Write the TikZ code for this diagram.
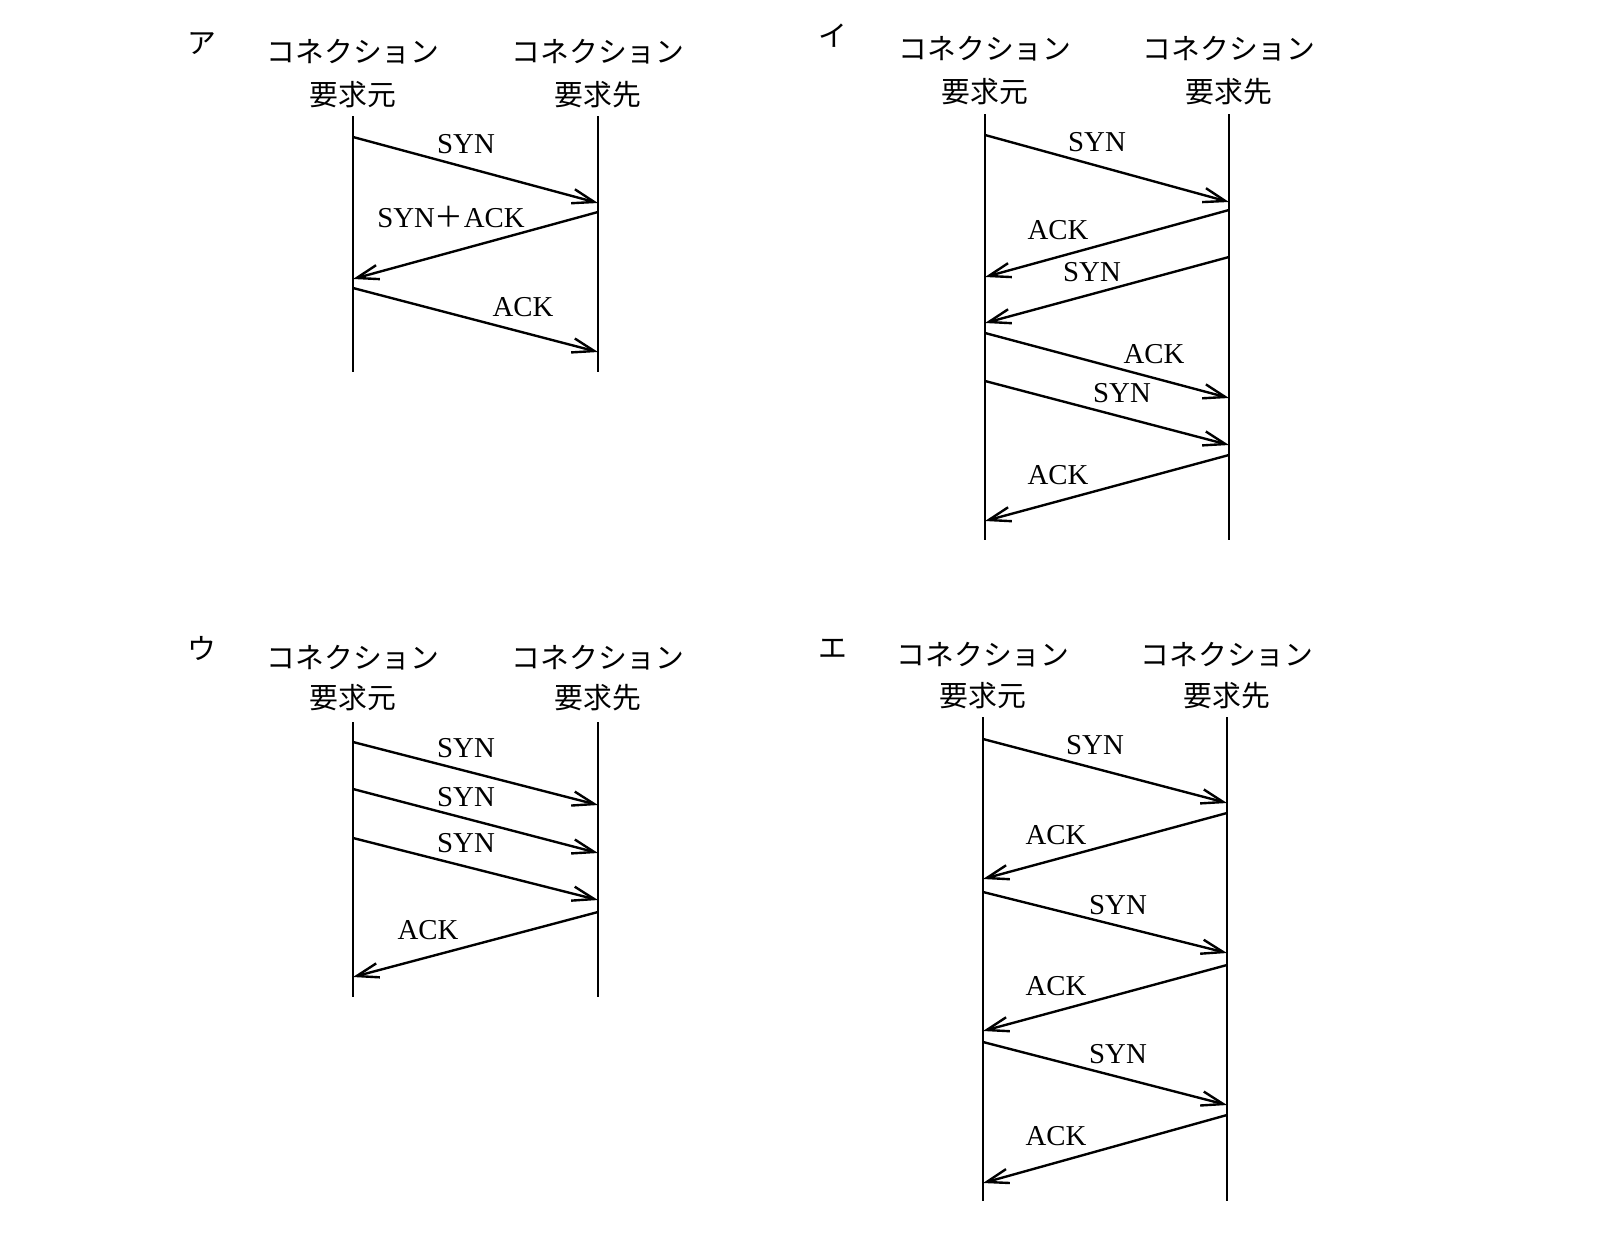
\documentclass[tikz,border=0pt]{standalone}
\usepackage{fontspec}
\setmainfont{Liberation Serif}
\newfontfamily\jp{Noto Sans CJK JP}
\usetikzlibrary{arrows.meta,positioning}
\tikzset{
	lane/.style={line width=1.7pt},
	msg/.style={->,>={Straight Barb[length=5.5mm,width=3.6mm]},line width=1.7pt},
	msglabel/.style={font=\fontsize{20.5}{24}\selectfont, inner sep=0pt},
	ent/.style={font=\jp\fontsize{20.5}{24}\selectfont, inner sep=0pt, anchor=base},
	tag/.style={font=\jp\fontsize{20.5}{24}\selectfont, inner sep=0pt, anchor=base}
}
\begin{document}
\begin{tikzpicture}[x=0.25mm,y=-0.25mm]
\useasboundingbox (0,0) rectangle (1600,1240);

%%%% ア
\node[tag] (ta) at (202,54) {ア};
\node[ent] (a1n) at (353,63) {コネクション};
\node[ent] (a1m) at (353,105) {要求元};
\node[ent] (a2n) at (598,63) {コネクション};
\node[ent] (a2m) at (598,105) {要求先};
\coordinate (a1) at (353,116); \coordinate (a1e) at (353,372);
\coordinate (a2) at (598,116); \coordinate (a2e) at (598,372);
\draw[lane] (a1) -- (a1e) (a2) -- (a2e);
\draw (a1 |- 0,137) edge[msg] (a2 |- 0,203)
(a2 |- 0,212) edge[msg] (a1 |- 0,279)
(a1 |- 0,288) edge[msg] (a2 |- 0,352);
\node[msglabel] (as1) at (466,144) {SYN};
\node[msglabel] (as2) at (451,217) {SYN{\jp ＋}ACK};
\node[msglabel] (as3) at (523,307) {ACK};

%%%% イ
\node[tag] (tb) at (833,47) {イ};
\node[ent] (b1n) at (985,59) {コネクション};
\node[ent] (b1m) at (985,102) {要求元};
\node[ent] (b2n) at (1229,59) {コネクション};
\node[ent] (b2m) at (1229,102) {要求先};
\coordinate (b1) at (985,114); \coordinate (b1e) at (985,540);
\coordinate (b2) at (1229,114); \coordinate (b2e) at (1229,540);
\draw[lane] (b1) -- (b1e) (b2) -- (b2e);
\draw (b1 |- 0,135) edge[msg] (b2 |- 0,202)
(b2 |- 0,210) edge[msg] (b1 |- 0,277)
(b2 |- 0,257) edge[msg] (b1 |- 0,323)
(b1 |- 0,333) edge[msg] (b2 |- 0,398)
(b1 |- 0,381) edge[msg] (b2 |- 0,445)
(b2 |- 0,455) edge[msg] (b1 |- 0,521);
\node[msglabel] (bs1) at (1097,142) {SYN};
\node[msglabel] (bs2) at (1058,230) {ACK};
\node[msglabel] (bs3) at (1092,272) {SYN};
\node[msglabel] (bs4) at (1154,354) {ACK};
\node[msglabel] (bs5) at (1122,393) {SYN};
\node[msglabel] (bs6) at (1058,475) {ACK};

%%%% ウ
\node[tag] (tc) at (202,659) {ウ};
\node[ent] (c1n) at (353,668.5) {コネクション};
\node[ent] (c1m) at (353,708.5) {要求元};
\node[ent] (c2n) at (598,668.5) {コネクション};
\node[ent] (c2m) at (598,708.5) {要求先};
\coordinate (c1) at (353,722); \coordinate (c1e) at (353,997);
\coordinate (c2) at (598,722); \coordinate (c2e) at (598,997);
\draw[lane] (c1) -- (c1e) (c2) -- (c2e);
\draw (c1 |- 0,742) edge[msg] (c2 |- 0,805)
(c1 |- 0,789) edge[msg] (c2 |- 0,853)
(c1 |- 0,838) edge[msg] (c2 |- 0,900)
(c2 |- 0,912) edge[msg] (c1 |- 0,977);
\node[msglabel] (cs1) at (466,748) {SYN};
\node[msglabel] (cs2) at (466,797) {SYN};
\node[msglabel] (cs3) at (466,843) {SYN};
\node[msglabel] (cs4) at (428,930) {ACK};

%%%% エ
\node[tag] (td) at (833,658) {エ};
\node[ent] (d1n) at (983,665) {コネクション};
\node[ent] (d1m) at (983,706) {要求元};
\node[ent] (d2n) at (1227,665) {コネクション};
\node[ent] (d2m) at (1227,706) {要求先};
\coordinate (d1) at (983,717); \coordinate (d1e) at (983,1201);
\coordinate (d2) at (1227,717); \coordinate (d2e) at (1227,1201);
\draw[lane] (d1) -- (d1e) (d2) -- (d2e);
\draw (d1 |- 0,739) edge[msg] (d2 |- 0,803)
(d2 |- 0,813) edge[msg] (d1 |- 0,879)
(d1 |- 0,892) edge[msg] (d2 |- 0,953)
(d2 |- 0,965) edge[msg] (d1 |- 0,1031)
(d1 |- 0,1042) edge[msg] (d2 |- 0,1105)
(d2 |- 0,1115) edge[msg] (d1 |- 0,1183);
\node[msglabel] (ds1) at (1095,745) {SYN};
\node[msglabel] (ds2) at (1056,835) {ACK};
\node[msglabel] (ds3) at (1118,905) {SYN};
\node[msglabel] (ds4) at (1056,986) {ACK};
\node[msglabel] (ds5) at (1118,1054) {SYN};
\node[msglabel] (ds6) at (1056,1136) {ACK};
\end{tikzpicture}
\end{document}
